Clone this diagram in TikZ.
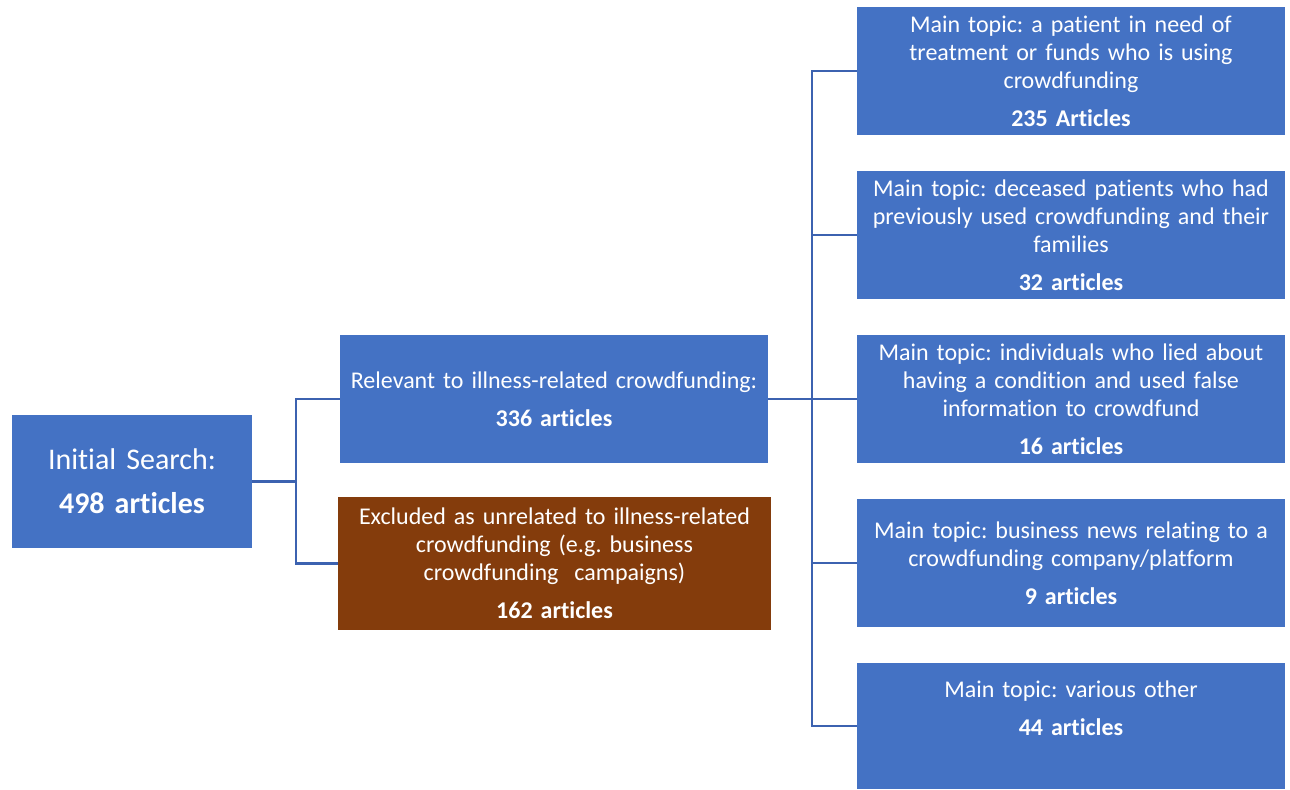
\documentclass[tikz,border=0pt]{standalone}
\usepackage{fontspec}
\setmainfont{Carlito}[Ligatures=NoCommon]
\usetikzlibrary{positioning}
\definecolor{boxblue}{RGB}{68,114,196}
\definecolor{boxbrown}{RGB}{132,60,12}
\definecolor{linkblue}{RGB}{60,98,176}
\frenchspacing

\begin{document}
\begin{tikzpicture}[x=0.5pt,y=-0.5pt,
    topic/.style={fill=boxblue, text=white, inner sep=0pt, align=center,
      minimum width=214pt, minimum height=64pt, text width=212pt,
      font=\fontsize{12}{14}\selectfont},
    link/.style={draw=linkblue, line width=1.3pt}]
    \useasboundingbox (0,0) rectangle (1290,789);

    % first level
    \node[topic, minimum width=120pt, minimum height=66.5pt, text width=118pt,
      font=\fontsize{15}{17}\selectfont] (init) at (132,481.5)
      {Initial Search:\\[5pt]\textbf{498 articles}};
    \node[topic] (rel) at (554,399)
      {Relevant to illness-related crowdfunding:\\[5pt]\textbf{336 articles}};
    \node[topic, fill=boxbrown, minimum width=216.5pt, minimum height=66.5pt,
      text width=214pt] (excl) at (554.5,563.5)
      {Excluded as unrelated to illness-related\\crowdfunding (e.g. business\\
       crowdfunding\ \ campaigns)\\[5pt]\textbf{162 articles}};

    % main topics
    \node[topic] (t1) at (1071,71)
      {Main topic: a patient in need of\\treatment or funds who is using\\
       crowdfunding\\[5pt]\textbf{235 Articles}};
    \node[topic] (t2) at (1071,235)
      {Main topic: deceased patients who had\\previously used crowdfunding and their\\
       families\\[5pt]\textbf{32 articles}};
    \node[topic] (t3) at (1071,399)
      {Main topic: individuals who lied about\\having a condition and used false\\
       information to crowdfund\\[5pt]\textbf{16 articles}};
    \node[topic] (t4) at (1071,563)
      {Main topic: business news relating to a\\crowdfunding company/platform\\[5pt]
       \textbf{9 articles}};
    \node[topic, minimum height=63pt] (t5) at (1071,726)
      {Main topic: various other\\[5pt]\textbf{44 articles}\\[4pt]\mbox{}};

    % connectors
    \coordinate (split1) at (296,481.5);
    \coordinate (split2) at (812,399);
    \draw[link] (init.east) -- (split1);
    \draw[link] (split1) |- (rel.west);
    \draw[link] (split1) |- (excl.west);
    \draw[link] (rel.east) -- (split2);
    \foreach \t in {t1,t2,t3,t4,t5} {
        \draw[link] (split2) |- (\t.west);
    }
\end{tikzpicture}
\end{document}
